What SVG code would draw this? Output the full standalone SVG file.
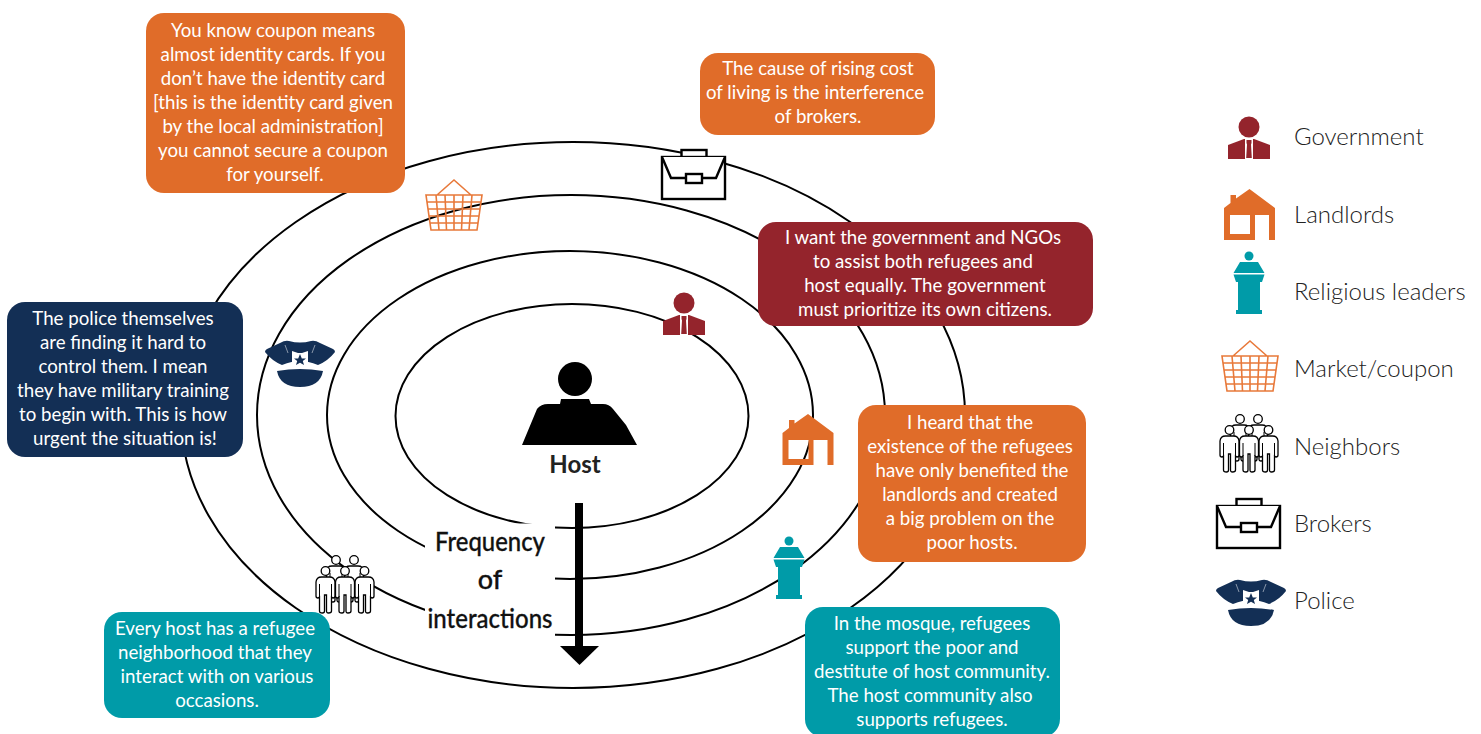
<svg xmlns="http://www.w3.org/2000/svg" width="1481" height="734" viewBox="0 0 1481 734">
<style>
text{font-family:Lato,"Liberation Sans",sans-serif}
.b text,.b{font-size:18.7px;fill:#fff;text-anchor:middle}
.ring{fill:none;stroke:#000;stroke-width:2}
.lg{font-size:24px;fill:#222;font-weight:300}
.gov{fill:#94242c}.org{fill:#e06c29}.teal{fill:#009ba8}.navy{fill:#132f55}
.bk{fill:#fff;stroke:#000;stroke-width:2.4;stroke-linejoin:miter}
.bs{fill:none;stroke:#e8793a;stroke-width:1.6}
.pp{fill:#fff;stroke:#000;stroke-width:1.3}
.ln{fill:none;stroke:#000;stroke-width:1}
</style>
<defs>
<g id="i-gov"><circle cx="0" cy="-11" r="10.500"/><path d="M-21 21V7L-5 1H5L21 7V21Z"/><path fill="#fff" d="M-4 1H4V21H-4Z"/><path d="M-2.500 2H2.500V5L2 6.500L2.800 20H-2.800L-2 6.500L-2.500 5Z"/></g>
<g id="i-house"><path d="M-25.500 25V-7L-19 -12V-20H-13.500V-16.500L0 -26L25.500 -7V25H19.500V0H5.500V25ZM-19.500 0V19H0.500V0Z" fill-rule="evenodd"/></g>
<g id="i-pod"><circle cx="0" cy="-27" r="4.500"/><path d="M-9 -21H9L15.500 -10H-15.500ZM-15.500 -8.500H15.500L13 -1H11V27H13V31H-13V27H-11V-1H-13Z"/></g>
<g id="i-bsk" class="bs"><path d="M-28 -14H28L23 21H-23ZM-17 -14L0 -29L17 -14M-27 -7H27M-26 0H26M-25 7H25M-24 14H24M-18 -14L-15 21M-9 -14L-7.500 21M0 -14V21M9 -14L7.500 21M18 -14L15 21"/></g>
<g id="i-pp"><circle cx="0" cy="0" r="4.300" class="pp"/><path d="M-4 6H4Q9 6 9.500 11V25Q9.500 27 7.500 27L6 26V40Q6 42 3 42Q1 42 1 40V24H-1V40Q-1 42 -3 42Q-6 42 -6 40V26L-7.500 27Q-9.500 27 -9.500 25V11Q-9 6 -4 6Z" class="pp"/><path d="M-6 13V26M6 13V26" class="ln"/></g>
<g id="i-ppl"><use href="#i-pp" x="-9" y="-11"/><use href="#i-pp" x="9" y="-11"/><use href="#i-pp" x="-19.500"/><use href="#i-pp" x="19.500"/><use href="#i-pp" x="0"/></g>
<g id="i-case"><rect x="-32" y="-21" width="63" height="42" class="bk"/><rect x="-12.500" y="-28" width="25" height="7" class="bk"/><path d="M-32 -21L-23 0H22L31 -21" class="bk"/><rect x="-8" y="-4" width="16" height="9" class="bk"/></g>
<g id="i-cap"><path d="M-35 -10Q-35 -12 -33 -13L-20 -19Q-15 -22 -11 -21Q0 -18 11 -21Q15 -22 20 -19L33 -13Q35 -12 35 -10Q28 -1 18 3Q8 -1 0 -1Q-8 -1 -18 3Q-28 -1 -35 -10Z"/><path d="M-23 9Q0 5 23 9Q20 25 0 25Q-20 25 -23 9Z"/><path d="M-8 -11L-2 -9H2L8 -11V3H-8Z" fill="#fff"/><path d="M0 -8L1.800 -3.500H6L2.800 -1L4 3L0 .8L-4 3L-2.800 -1L-6 -3.500H-1.800Z"/><path d="M-15 -17L-12 -9M15 -17L12 -9" stroke="#fff" stroke-width=".5" fill="none"/></g>
</defs>
<g id="connectors">
<ellipse class="ring" cx="572" cy="416" rx="176.500" ry="112"/>
<ellipse class="ring" cx="570" cy="415" rx="243" ry="164"/>
<ellipse class="ring" cx="571" cy="415" rx="314" ry="220"/>
<ellipse class="ring" cx="573" cy="415" rx="392" ry="273"/>
<rect x="425" y="523.500" width="130" height="114" fill="#fff"/>
<path d="M579 503V648" stroke="#000" stroke-width="8" fill="none"/>
<path d="M560 646H599L579.500 665Z"/>
</g>
<g id="host"><circle cx="575" cy="379" r="17"/><path d="M522 445L537 409Q541 404 548 404H560L561 399H589L591 404H603Q609 404 613 409L626 425L637 445Z"/><text x="575" y="473" font-size="24" font-weight="700" text-anchor="middle" fill="#222">Host</text></g>
<g id="frequency" font-size="27" font-weight="500" text-anchor="middle" fill="#111" stroke="#111" stroke-width=".3"><text x="490" y="551" textLength="110" lengthAdjust="spacingAndGlyphs">Frequency</text><text x="490" y="589">of</text><text x="490" y="628" textLength="125" lengthAdjust="spacingAndGlyphs">interactions</text></g>
<g id="icon-market"><use href="#i-bsk" x="454" y="209"/></g>
<g id="icon-brokers"><use href="#i-case" x="694" y="178"/></g>
<g id="icon-gov" class="gov"><use href="#i-gov" x="684" y="314"/></g>
<g id="icon-house" class="org"><use href="#i-house" x="808" y="440"/></g>
<g id="icon-pod" class="teal"><use href="#i-pod" x="789" y="568"/></g>
<g id="icon-ppl"><use href="#i-ppl" x="345" y="571"/></g>
<g id="icon-cap" class="navy"><use href="#i-cap" x="300" y="362"/></g>
<g id="b1" class="b"><rect x="146" y="13" width="259" height="180" rx="18" class="org"/><text x="273" y="37">You know coupon means</text><text x="273" y="61">almost identity cards. If you</text><text x="273" y="85">don’t have the identity card</text><text x="273" y="109">[this is the identity card given</text><text x="273" y="133">by the local administration]</text><text x="273" y="157">you cannot secure a coupon</text><text x="275" y="181">for yourself.</text></g>
<g id="b2" class="b"><rect x="700" y="53" width="235" height="82" rx="18" class="org"/><text x="818" y="75">The cause of rising cost</text><text x="815" y="99">of living is the interference</text><text x="818" y="123">of brokers.</text></g>
<g id="b3" class="b"><rect x="758" y="222" width="335" height="104" rx="18" class="gov"/><text x="923" y="244">I want the government and NGOs</text><text x="923" y="268">to assist both refugees and</text><text x="925" y="292">host equally. The government</text><text x="925" y="316">must prioritize its own citizens.</text></g>
<g id="b4" class="b"><rect x="858" y="405" width="228" height="157" rx="18" class="org"/><text x="970" y="429">I heard that the</text><text x="970" y="453">existence of the refugees</text><text x="972" y="477">have only benefited the</text><text x="970" y="501">landlords and created</text><text x="970" y="525">a big problem on the</text><text x="972" y="549">poor hosts.</text></g>
<g id="b5" class="b"><rect x="805" y="607" width="255" height="130" rx="18" class="teal"/><text x="932" y="630">In the mosque, refugees</text><text x="932" y="654">support the poor and</text><text x="932" y="678">destitute of host community.</text><text x="930" y="702">The host community also</text><text x="932" y="726">supports refugees.</text></g>
<g id="b6" class="b"><rect x="104" y="612" width="226" height="106" rx="18" class="teal"/><text x="215" y="635">Every host has a refugee</text><text x="215" y="659">neighborhood that they</text><text x="217" y="683">interact with on various</text><text x="217" y="707">occasions.</text></g>
<g id="b7" class="b"><rect x="7" y="302" width="236" height="155" rx="18" class="navy"/><text x="123" y="325">The police themselves</text><text x="123" y="349">are finding it hard to</text><text x="123" y="373">control them. I mean</text><text x="123" y="397">they have military training</text><text x="123" y="421">to begin with. This is how</text><text x="125" y="445">urgent the situation is!</text></g>
<g id="legend-government"><use href="#i-gov" x="1249" y="138" class="gov"/><text class="lg" x="1294" y="145">Government</text></g>
<g id="legend-landlords"><use href="#i-house" x="1249.500" y="215" class="org"/><text class="lg" x="1294" y="223">Landlords</text></g>
<g id="legend-religious"><use href="#i-pod" x="1249" y="283" class="teal"/><text class="lg" x="1294" y="300">Religious leaders</text></g>
<g id="legend-market"><use href="#i-bsk" x="1250" y="370"/><text class="lg" x="1294" y="377">Market/coupon</text></g>
<g id="legend-neighbors"><use href="#i-ppl" x="1249" y="430"/><text class="lg" x="1294" y="455">Neighbors</text></g>
<g id="legend-brokers"><use href="#i-case" x="1249" y="527"/><text class="lg" x="1294" y="532">Brokers</text></g>
<g id="legend-police"><use href="#i-cap" x="1251" y="601" class="navy"/><text class="lg" x="1294" y="609">Police</text></g>
</svg>
